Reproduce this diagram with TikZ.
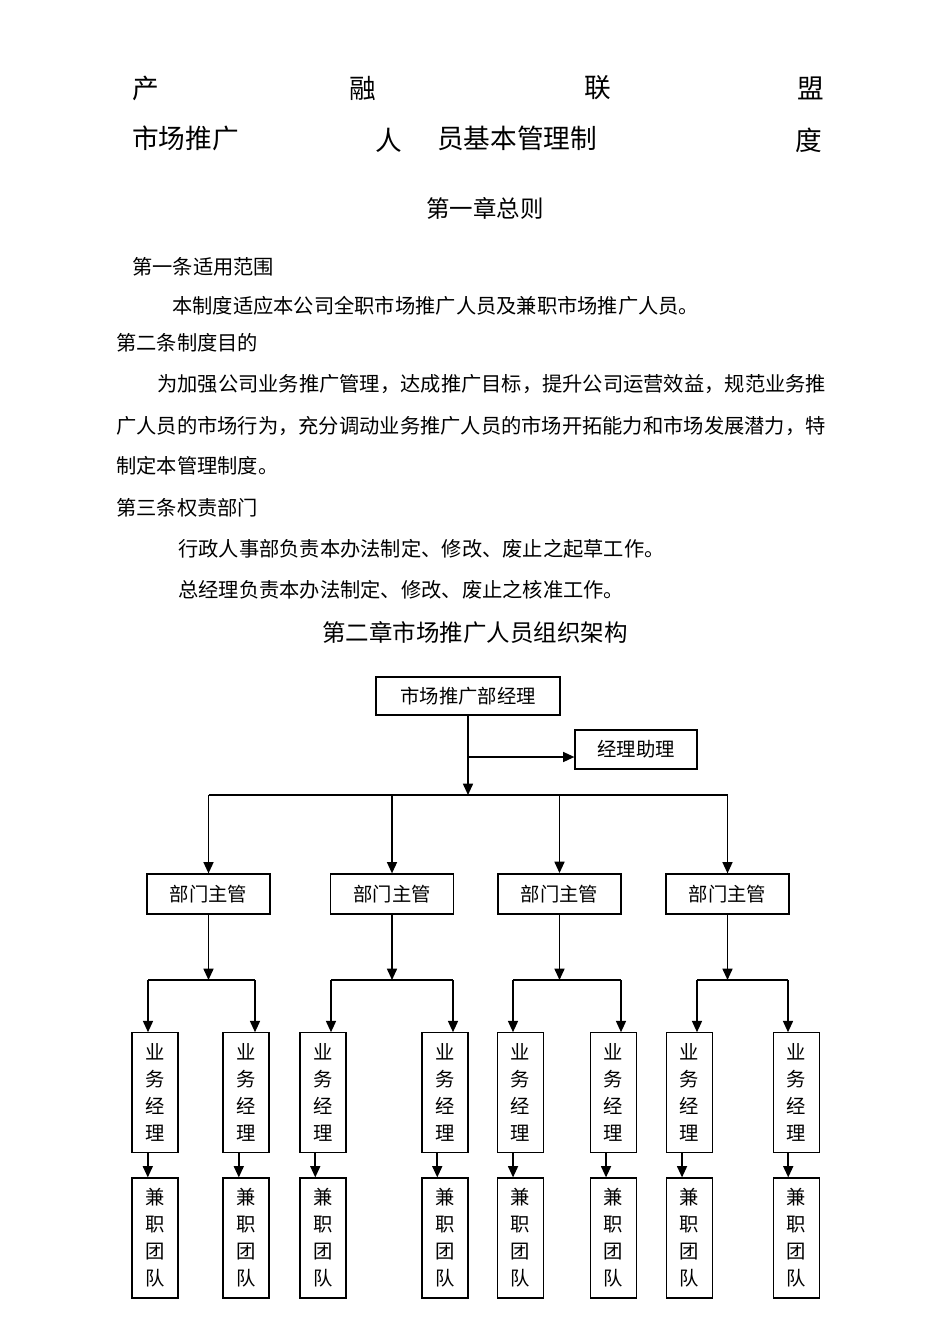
\documentclass[tikz,border=0pt]{standalone}
\usepackage{fontspec}
\newfontfamily\cjk{Noto Sans CJK SC}
\usetikzlibrary{arrows.meta}

\tikzset{
  txt/.style={anchor=west, inner sep=0pt, font=\cjk\fontsize{15.2}{18}\selectfont},
  ttl/.style={txt, font=\cjk\fontsize{20}{24}\selectfont},
  chap/.style={inner sep=0pt, font=\cjk\fontsize{17.6}{20}\selectfont},
  box/.style={draw=black, line width=0.9pt, inner sep=0pt, font=\cjk\fontsize{14.5}{20.25}\selectfont},
  heavy/.style={line width=1.4pt},
  supbox/.style={box, minimum width=92.25pt, minimum height=30pt},
  colbox/.style={box, align=center, minimum width=34.5pt, minimum height=89.5pt},
  link/.style={line width=1.2pt, black},
  arr/.style={link, -{Triangle[length=8.5pt,width=7.5pt]}}
}

\begin{document}
\begin{tikzpicture}[x=0.75pt, y=-0.75pt]

\useasboundingbox (0,0) rectangle (950,1344);

\node[ttl] (t1) at (132,88) {产};
\node[ttl] (t2) at (349,88) {融};
\node[ttl] (t3) at (584,88) {联};
\node[ttl] (t4) at (797,88) {盟};
\node[ttl] (t5) at (132,138) {市场推广};
\node[ttl] (t6) at (375,140) {人};
\node[ttl] (t7) at (437,138) {员基本管理制};
\node[ttl] (t8) at (795,140) {度};

\node[chap] (ch1) at (485,208) {第一章总则};
\node[txt] (p1) at (132,267) {第一条适用范围};
\node[txt] (p2) at (172,306) {本制度适应本公司全职市场推广人员及兼职市场推广人员。};
\node[txt] (p3) at (116,343) {第二条制度目的};
\node[txt] (p4) at (157,384) {为加强公司业务推广管理，达成推广目标，提升公司运营效益，规范业务推};
\node[txt] (p5) at (116,426) {广人员的市场行为，充分调动业务推广人员的市场开拓能力和市场发展潜力，特};
\node[txt] (p6) at (116,466) {制定本管理制度。};
\node[txt] (p7) at (116,508) {第三条权责部门};
\node[txt] (p8) at (178,549) {行政人事部负责本办法制定、修改、废止之起草工作。};
\node[txt] (p9) at (178,590) {总经理负责本办法制定、修改、废止之核准工作。};
\node[chap] (ch2) at (475,633) {第二章市场推广人员组织架构};

\node[box, heavy, minimum width=138pt, minimum height=28.5pt] (mgr) at (468,696) {市场推广部经理};
\node[box, minimum width=91.5pt, minimum height=29.25pt] (asst) at (636,749.5) {经理助理};

\node[supbox] (sup1) at (208.5,894) {部门主管};
\node[supbox] (sup2) at (392,894) {部门主管};
\node[supbox, heavy] (sup3) at (559.5,894) {部门主管};
\node[supbox] (sup4) at (727.5,894) {部门主管};

\node[colbox] (yw1) at (155,1092.5) {业\\务\\经\\理};
\node[colbox] (yw2) at (246,1092.5) {业\\务\\经\\理};
\node[colbox] (yw3) at (323,1092.5) {业\\务\\经\\理};
\node[colbox] (yw4) at (445,1092.5) {业\\务\\经\\理};
\node[colbox] (yw5) at (520.5,1092.5) {业\\务\\经\\理};
\node[colbox] (yw6) at (613.5,1092.5) {业\\务\\经\\理};
\node[colbox] (yw7) at (689.5,1092.5) {业\\务\\经\\理};
\node[colbox] (yw8) at (796.5,1092.5) {业\\务\\经\\理};

\node[colbox, heavy] (jz1) at (155,1238) {兼\\职\\团\\队};
\node[colbox, heavy] (jz2) at (246,1238) {兼\\职\\团\\队};
\node[colbox, heavy] (jz3) at (323,1238) {兼\\职\\团\\队};
\node[colbox, heavy] (jz4) at (445,1238) {兼\\职\\团\\队};
\node[colbox, heavy] (jz5) at (520.5,1238) {兼\\职\\团\\队};
\node[colbox, heavy] (jz6) at (613.5,1238) {兼\\职\\团\\队};
\node[colbox, heavy] (jz7) at (689.5,1238) {兼\\职\\团\\队};
\node[colbox, heavy] (jz8) at (796.5,1238) {兼\\职\\团\\队};

\coordinate (bar) at (468,795);
\coordinate (br) at (468,757);
\draw[arr] (mgr) -- (bar);
\draw[arr] (br) -- (asst.west |- br);
\draw[link] (sup1.north |- bar) -- (sup4.north |- bar);
\draw[arr] (sup1.north |- bar) -- (sup1.north);
\draw[arr] (sup2.north |- bar) -- (sup2.north);
\draw[arr] (sup3.north |- bar) -- (sup3.north);
\draw[arr] (sup4.north |- bar) -- (sup4.north);

\coordinate (g1a) at (148,980);
\coordinate (g1b) at (255,980);
\coordinate (g2a) at (331,980);
\coordinate (g2b) at (453,980);
\coordinate (g3a) at (513,980);
\coordinate (g3b) at (621,980);
\coordinate (g4a) at (697,980);
\coordinate (g4b) at (788,980);

\draw[arr] (sup1) -- (sup1.south |- g1a);
\draw[arr] (sup2) -- (sup2.south |- g2a);
\draw[arr] (sup3) -- (sup3.south |- g3a);
\draw[arr] (sup4) -- (sup4.south |- g4a);
\draw[link] (g1a) -- (g1b);
\draw[link] (g2a) -- (g2b);
\draw[link] (g3a) -- (g3b);
\draw[link] (g4a) -- (g4b);
\draw[arr] (g1a) -- (g1a |- yw1.north);
\draw[arr] (g1b) -- (g1b |- yw2.north);
\draw[arr] (g2a) -- (g2a |- yw3.north);
\draw[arr] (g2b) -- (g2b |- yw4.north);
\draw[arr] (g3a) -- (g3a |- yw5.north);
\draw[arr] (g3b) -- (g3b |- yw6.north);
\draw[arr] (g4a) -- (g4a |- yw7.north);
\draw[arr] (g4b) -- (g4b |- yw8.north);

\draw[arr] ([xshift=-5.4pt]yw1.south) -- ([xshift=-5.4pt]jz1.north);
\draw[arr] ([xshift=-5.4pt]yw2.south) -- ([xshift=-5.4pt]jz2.north);
\draw[arr] ([xshift=-5.8pt]yw3.south) -- ([xshift=-5.8pt]jz3.north);
\draw[arr] ([xshift=-5.8pt]yw4.south) -- ([xshift=-5.8pt]jz4.north);
\draw[arr] ([xshift=-5.6pt]yw5.south) -- ([xshift=-5.6pt]jz5.north);
\draw[arr] ([xshift=-5.6pt]yw6.south) -- ([xshift=-5.6pt]jz6.north);
\draw[arr] ([xshift=-5.6pt]yw7.south) -- ([xshift=-5.6pt]jz7.north);
\draw[arr] ([xshift=-6.2pt]yw8.south) -- ([xshift=-6.2pt]jz8.north);

\end{tikzpicture}
\end{document}
